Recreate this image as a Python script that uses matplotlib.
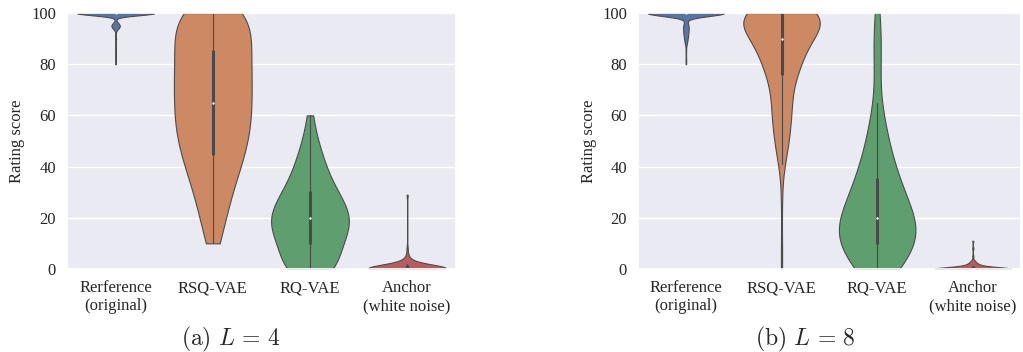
import numpy as np
import pandas as pd
import matplotlib
matplotlib.use("Agg")
import matplotlib.pyplot as plt
import seaborn as sns

systems = ["Rerference\n(original)", "RSQ-VAE", "RQ-VAE", "Anchor\n(white noise)"]

# ratings as (score, count) pairs, L = 4
ref_l4_scores = [100, 96, 95, 94, 90, 85, 80]
ref_l4_counts = [170, 6, 12, 6, 2, 1, 1]
rsq_l4_scores = [10, 15, 20, 25, 30, 35, 40, 45, 50, 55, 60, 65, 70, 75, 80, 85, 90, 95, 100]
rsq_l4_counts = [3, 3, 4, 5, 6, 7, 9, 10, 11, 12, 12, 12, 12, 12, 12, 12, 11, 11, 20]
rq_l4_scores = [0, 5, 10, 15, 20, 25, 30, 35, 40, 45, 50, 55, 60]
rq_l4_counts = [10, 6, 8, 10, 11, 9, 7, 5, 4, 3, 2, 1, 1]
anchor_l4_scores = [0, 1, 2, 3, 5, 8, 29]
anchor_l4_counts = [60, 15, 8, 4, 2, 1, 1]

# L = 8
ref_l8_scores = [100, 96, 95, 94, 93, 92, 91, 90, 89, 88, 85, 82, 80]
ref_l8_counts = [170, 4, 5, 4, 4, 4, 3, 3, 2, 2, 1, 1, 1]
rsq_l8_scores = [0, 10, 25, 35, 41, 45, 50, 55, 60, 65, 70, 76, 80, 85, 90, 95, 100]
rsq_l8_counts = [1, 1, 1, 1, 2, 4, 6, 7, 8, 8, 9, 12, 14, 18, 24, 30, 56]
rq_l8_scores = [0, 5, 10, 15, 20, 25, 32, 35, 40, 45, 50, 55, 60, 65, 75, 80, 85, 90, 95, 100]
rq_l8_counts = [8, 9, 11, 12, 11, 9, 8, 4, 4, 4, 3, 2, 2, 1, 1, 1, 1, 1, 1, 1]
anchor_l8_scores = [0, 1, 2, 3, 5, 8, 11]
anchor_l8_counts = [70, 12, 6, 3, 1, 1, 1]

panels = [
    ("(a)", "4", [(ref_l4_scores, ref_l4_counts), (rsq_l4_scores, rsq_l4_counts),
                  (rq_l4_scores, rq_l4_counts), (anchor_l4_scores, anchor_l4_counts)]),
    ("(b)", "8", [(ref_l8_scores, ref_l8_counts), (rsq_l8_scores, rsq_l8_counts),
                  (rq_l8_scores, rq_l8_counts), (anchor_l8_scores, anchor_l8_counts)]),
]

sns.set_theme(style="darkgrid", palette="deep")
plt.rcParams["font.family"] = ["Liberation Serif", "DejaVu Serif"]
plt.rcParams["mathtext.fontset"] = "cm"

fig = plt.figure(figsize=(10.23, 3.52), dpi=100)
boxes = [[0.0655, 0.236, 0.380, 0.727], [0.6237, 0.236, 0.374, 0.727]]
caption_x = [0.226, 0.787]

for box, cx, (tag, lval, groups) in zip(boxes, caption_x, panels):
    ax = fig.add_axes(box)
    names, scores = [], []
    for s, (sc, cnt) in zip(systems, groups):
        vals = np.repeat(sc, cnt)
        scores.append(vals)
        names += [s] * len(vals)
    df = pd.DataFrame({"system": names, "score": np.concatenate(scores)})
    sns.violinplot(data=df, x="system", y="score", hue="system", order=systems,
                   hue_order=systems, palette="deep", cut=0, density_norm="width",
                   inner="box", linewidth=0.8, legend=False, ax=ax,
                   inner_kws=dict(box_width=2.2, whis_width=0.8, marker="o",
                                  markersize=1.2, color="#4a4a4a"))
    ax.set_ylim(0, 100)
    ax.set_xlabel("")
    ax.set_ylabel("Rating score", fontsize=12)
    ax.tick_params(axis="both", labelsize=12, pad=2)
    ax.xaxis.grid(False)
    fig.text(cx, 0.037, r"$\mathrm{" + tag + r"}\ L\,=\," + lval + "$",
             ha="center", va="center", fontsize=17)

fig.savefig("out.png", dpi=100)
